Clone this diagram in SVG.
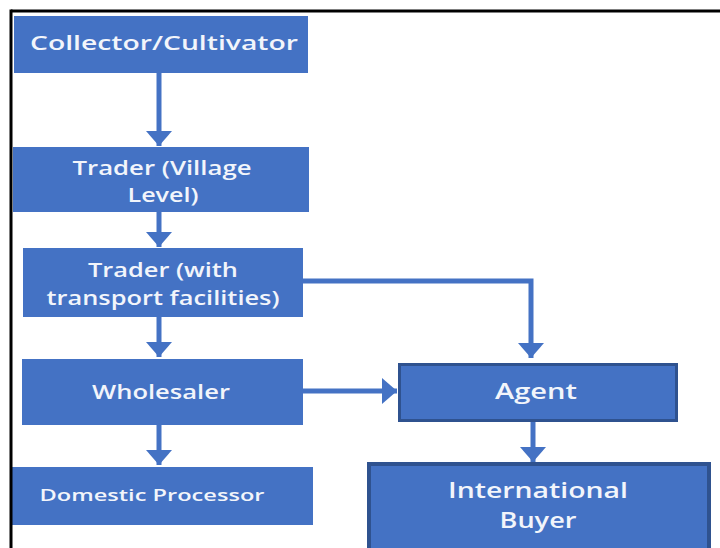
<svg xmlns="http://www.w3.org/2000/svg" width="720" height="548" viewBox="0 0 720 548">
  <style>
    .box { fill: #4472C4; }
    .dark { fill: #4472C4; stroke: #2F528F; }
    .lbl { font-family: "Open Sans", "Liberation Sans", sans-serif; font-weight: 600; fill: #F2F5FB; text-anchor: middle; }
    .con { stroke: #4472C4; stroke-width: 5; fill: none; }
    .frame { stroke: #000000; stroke-width: 3; fill: none; }
  </style>
  <defs>
    <marker id="ah" markerUnits="userSpaceOnUse" markerWidth="15" markerHeight="26" viewBox="0 0 15 26" refX="15" refY="13" orient="auto">
      <path d="M0,0 L15,13 L0,26 Z" fill="#4472C4"/>
    </marker>
  </defs>
  <rect x="0" y="0" width="720" height="548" fill="#FFFFFF"/>
  <g id="connectors">
    <line class="con" x1="159" y1="73" x2="159" y2="146" marker-end="url(#ah)"/>
    <line class="con" x1="159" y1="212" x2="159" y2="247" marker-end="url(#ah)"/>
    <line class="con" x1="159" y1="317" x2="159" y2="357" marker-end="url(#ah)"/>
    <line class="con" x1="159" y1="425" x2="159" y2="465" marker-end="url(#ah)"/>
    <polyline class="con" points="303,281 531,281 531,358" marker-end="url(#ah)"/>
    <line class="con" x1="303" y1="391" x2="397" y2="391" marker-end="url(#ah)"/>
    <line class="con" x1="533" y1="422" x2="533" y2="462" marker-end="url(#ah)"/>
  </g>
  <g id="collector">
    <rect class="box" x="14" y="16" width="294" height="57"/>
    <text class="lbl" x="164" y="50" font-size="19" textLength="268" lengthAdjust="spacingAndGlyphs">Collector/Cultivator</text>
  </g>
  <g id="trader-village">
    <rect class="box" x="13" y="147" width="296" height="65"/>
    <text class="lbl" x="162" y="175" font-size="19" textLength="179" lengthAdjust="spacingAndGlyphs">Trader (Village</text>
    <text class="lbl" x="163" y="202" font-size="19" textLength="71" lengthAdjust="spacingAndGlyphs">Level)</text>
  </g>
  <g id="trader-transport">
    <rect class="box" x="23" y="248" width="280" height="69"/>
    <text class="lbl" x="163" y="277" font-size="19" textLength="150" lengthAdjust="spacingAndGlyphs">Trader (with</text>
    <text class="lbl" x="163" y="305" font-size="19" textLength="233" lengthAdjust="spacingAndGlyphs">transport facilities)</text>
  </g>
  <g id="wholesaler">
    <rect class="box" x="22" y="359" width="281" height="66"/>
    <text class="lbl" x="161" y="399" font-size="19" textLength="138" lengthAdjust="spacingAndGlyphs">Wholesaler</text>
  </g>
  <g id="domestic-processor">
    <rect class="box" x="12" y="467" width="301" height="58"/>
    <text class="lbl" x="152" y="501" font-size="16.5" textLength="225" lengthAdjust="spacingAndGlyphs">Domestic Processor</text>
  </g>
  <g id="agent">
    <rect class="dark" x="399.5" y="364.5" width="277" height="56" stroke-width="3"/>
    <text class="lbl" x="536" y="399" font-size="21" font-weight="400" textLength="82" lengthAdjust="spacingAndGlyphs">Agent</text>
  </g>
  <g id="international-buyer">
    <rect class="dark" x="369" y="464" width="340" height="90" stroke-width="4"/>
    <text class="lbl" x="538" y="498" font-size="21" font-weight="400" textLength="180" lengthAdjust="spacingAndGlyphs">International</text>
    <text class="lbl" x="538" y="528" font-size="21" font-weight="400" textLength="77" lengthAdjust="spacingAndGlyphs">Buyer</text>
  </g>
  <g id="frame">
    <line class="frame" x1="11" y1="11" x2="720" y2="11"/>
    <line class="frame" x1="11" y1="9.5" x2="11" y2="548"/>
  </g>
</svg>
